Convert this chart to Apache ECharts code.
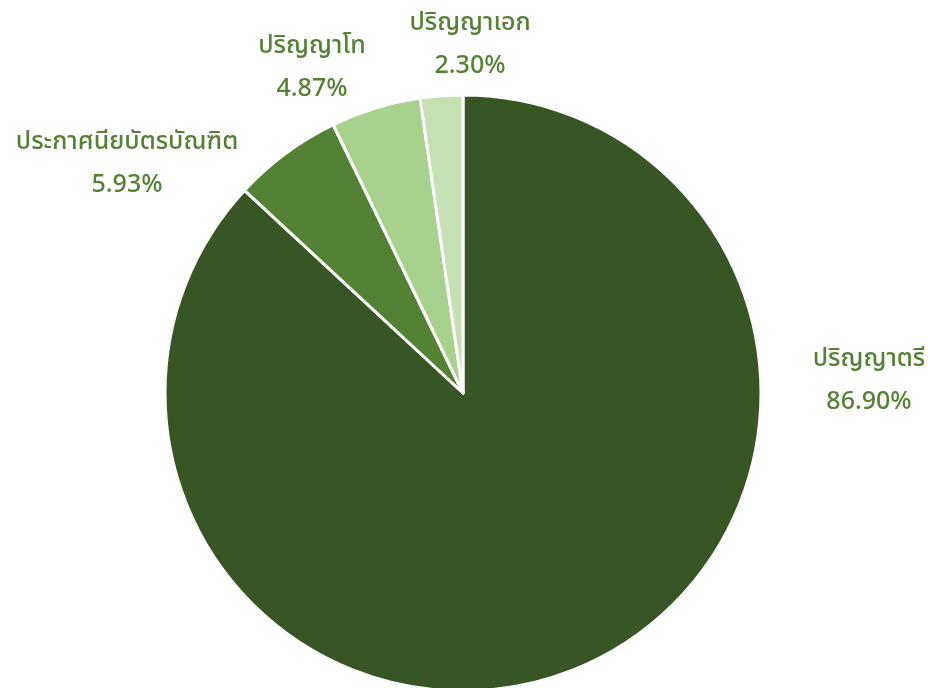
<!DOCTYPE html>
<html>
<head>
<meta charset="utf-8">
<script src="https://cdn.jsdelivr.net/npm/echarts@6/dist/echarts.min.js"></script>
<style>
html,body{margin:0;padding:0;background:#fff;}
#chart{width:928px;height:688px;}
</style>
</head>
<body>
<div id="chart"></div>
<script>
const categories = ['ปริญญาตรี', 'ประกาศนียบัตรบัณฑิต', 'ปริญญาโท', 'ปริญญาเอก'];
const values = [86.90, 5.93, 4.87, 2.30];
const colors = ['#375623', '#548235', '#A9D18E', '#C5E0B4'];
const labelCenters = [[869, 382], [127, 165], [312, 69], [470, 46]];

const chart = echarts.init(document.getElementById('chart'));
chart.setOption({
  animation: false,
  series: [{
    type: 'pie',
    center: [463, 393],
    radius: 298,
    startAngle: 90,
    clockwise: true,
    data: categories.map((c, i) => ({ name: c, value: values[i], itemStyle: { color: colors[i] } })),
    itemStyle: { borderColor: '#fff', borderWidth: 3 },
    label: {
      show: true,
      position: 'outside',
      formatter: p => p.name + '\n' + p.value.toFixed(2) + '%',
      color: '#548235',
      fontSize: 25,
      fontWeight: 500,
      lineHeight: 43,
      align: 'center',
      overflow: 'none',
      width: 400,
      fontFamily: '"Noto Sans Thai", "Leelawadee UI", "Noto Sans", sans-serif'
    },
    labelLine: { show: false },
    labelLayout: function (params) {
      const p = labelCenters[params.dataIndex];
      return { x: p[0], y: p[1], align: 'center', verticalAlign: 'middle' };
    },
    emphasis: { disabled: true }
  }]
});
</script>
</body>
</html>
